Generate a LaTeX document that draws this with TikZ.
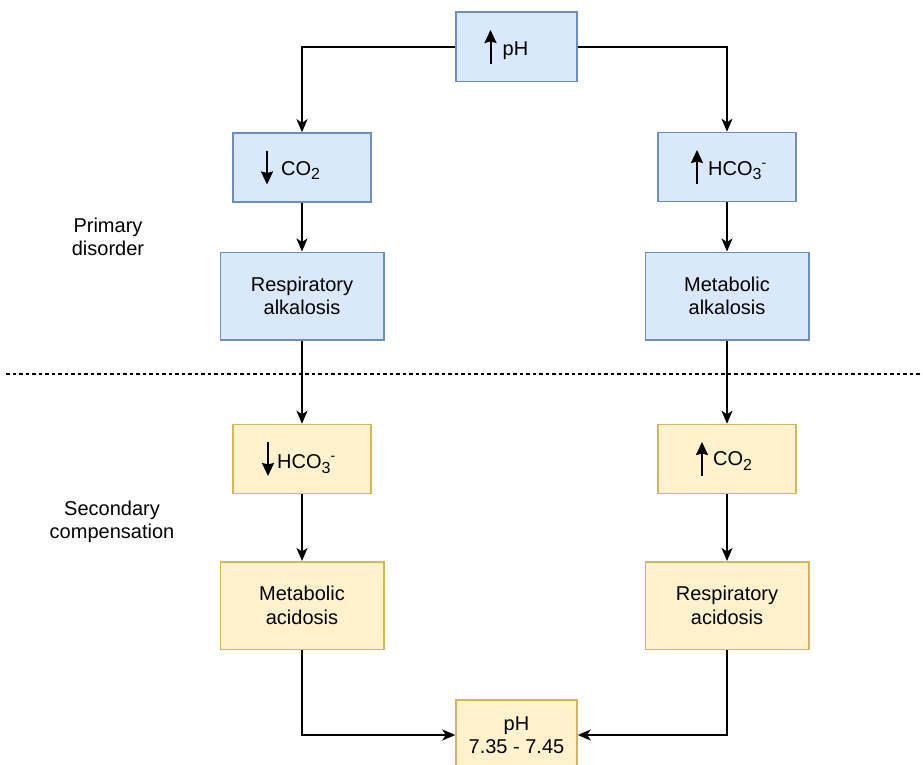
\documentclass[tikz,border=0pt]{standalone}
\usepackage{fontspec}
\setmainfont{Liberation Sans}
\usetikzlibrary{arrows.meta}

\definecolor{blueFill}{HTML}{DAE8FC}
\definecolor{blueLine}{HTML}{6C8EBF}
\definecolor{sandFill}{HTML}{FFF2CC}
\definecolor{sandLine}{HTML}{D6B656}

% chemical indices
\newcommand{\lowidx}[1]{\raisebox{-5pt}{\fontsize{16}{16}\selectfont #1}}
\newcommand{\highidx}[1]{\raisebox{7.5pt}{\fontsize{14}{14}\selectfont #1}}

\begin{document}
\begin{tikzpicture}[x=1pt,y=-1pt,
  font=\fontsize{20}{23.5}\selectfont,
  stage/.style={draw, line width=1.5pt, inner sep=0pt, align=center},
  primary/.style={stage, fill=blueFill, draw=blueLine},
  compens/.style={stage, fill=sandFill, draw=sandLine},
  smallbox/.style={minimum width=138pt, minimum height=69pt},
  bigbox/.style={minimum width=163.5pt, minimum height=87.5pt},
  phbox/.style={minimum width=121pt, minimum height=69.5pt},
  conn/.style={line width=1.8pt, -{Stealth[length=13pt,width=11pt,inset=3.5pt]}},
  trend/.style={line width=2pt, -{Stealth[length=13pt,width=12pt,inset=1.5pt]}},
  label/.style={anchor=base west, inner sep=0pt},
  divider/.style={line width=1.6pt, dash pattern=on 3.5pt off 3pt},
]
\clip (0,0) rectangle (923,765);
\fill[white] (0,0) rectangle (923,765);

% primary disorder row
\node[primary, phbox] (phTop) at (516.5,47) {};
\node[primary, smallbox] (co2Low) at (302,167.5) {};
\node[primary, smallbox] (hco3High) at (727,167) {};
\node[primary, bigbox] (respAlk) at (302,296) {Respiratory\\alkalosis};
\node[primary, bigbox] (metAlk) at (727,296) {Metabolic\\alkalosis};

% compensation row
\node[compens, smallbox] (hco3Low) at (302,459) {};
\node[compens, smallbox] (co2High) at (727,459) {};
\node[compens, bigbox] (metAcid) at (302,605.5) {Metabolic\\acidosis};
\node[compens, bigbox] (respAcid) at (727,605.5) {Respiratory\\acidosis};
\node[compens, minimum width=121pt, minimum height=70pt] (phNormal) at (516.5,735) {pH\\7.35 - 7.45};

% box texts with trend arrows
\node[label] (phTopTxt) at ([shift={(-14,8.5)}]phTop.center) {pH};
\draw[trend] ([shift={(-26,17)}]phTop.center) -- ([shift={(-26,-17)}]phTop.center);

\node[label] (co2LowTxt) at ([shift={(-21,7.5)}]co2Low.center) {CO\lowidx{2}};
\draw[trend] ([shift={(-35,-17)}]co2Low.center) -- ([shift={(-35,17)}]co2Low.center);

\node[label] (hco3HighTxt) at ([shift={(-19,8)}]hco3High.center) {HCO\lowidx{3}\highidx{-}};
\draw[trend] ([shift={(-30,17)}]hco3High.center) -- ([shift={(-30,-17)}]hco3High.center);

\node[label] (hco3LowTxt) at ([shift={(-25,9)}]hco3Low.center) {HCO\lowidx{3}\highidx{-}};
\draw[trend] ([shift={(-34,-17)}]hco3Low.center) -- ([shift={(-34,17)}]hco3Low.center);

\node[label] (co2HighTxt) at ([shift={(-14,6)}]co2High.center) {CO\lowidx{2}};
\draw[trend] ([shift={(-25,17)}]co2High.center) -- ([shift={(-25,-17)}]co2High.center);

% side labels
\node[align=center] (primLbl) at (108,237) {Primary\\disorder};
\node[align=center] (secLbl) at (112,522) {Secondary\\compensation};

% divider between the two rows
\coordinate (divL) at (6,374);
\coordinate (divR) at (923,374);
\draw[divider] (divL) -- (divR);

% connectors
\draw[conn] (phTop.west) -| (co2Low.north);
\draw[conn] (phTop.east) -| (hco3High.north);
\draw[conn] (co2Low.south) -- (co2Low.south |- respAlk.north);
\draw[conn] (hco3High.south) -- (hco3High.south |- metAlk.north);
\draw[conn] (respAlk.south) -- (respAlk.south |- hco3Low.north);
\draw[conn] (metAlk.south) -- (metAlk.south |- co2High.north);
\draw[conn] (hco3Low.south) -- (hco3Low.south |- metAcid.north);
\draw[conn] (co2High.south) -- (co2High.south |- respAcid.north);
\draw[conn] (metAcid.south) |- (phNormal.west);
\draw[conn] (respAcid.south) |- (phNormal.east);
\end{tikzpicture}
\end{document}
